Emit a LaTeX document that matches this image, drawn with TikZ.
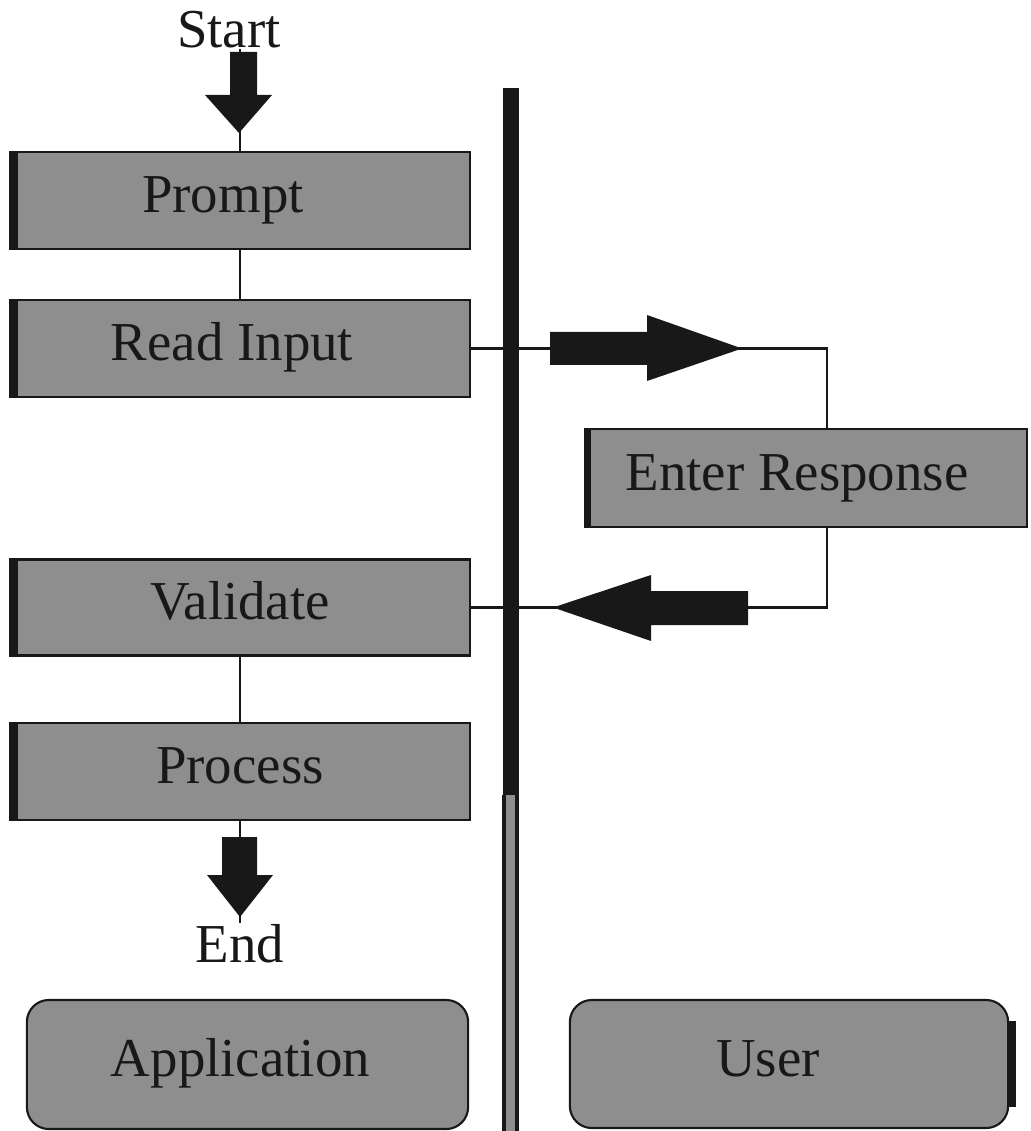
\documentclass[tikz,border=0pt]{standalone}
\usepackage{fontspec}
\setmainfont{Liberation Serif}
\definecolor{boxgray}{RGB}{142,142,142}
\definecolor{ink}{RGB}{24,24,24}
\begin{document}
\begin{tikzpicture}[x=0.01cm,y=-0.01cm,
  lbl/.style={font=\fontsize{15.6}{18}\selectfont, text=ink, inner sep=0pt},
  stepbox/.style={lbl, draw=ink, line width=0.6pt, fill=boxgray, rectangle,
    text height=0.36cm, text depth=0.12cm},
  lanebox/.style={stepbox, rounded corners=0.22cm},
  txtshift/.style={execute at begin node={\hspace*{#1}}},
  conn/.style={draw=ink, line width=0.6pt},
  edgebar/.style={fill=ink}]
\useasboundingbox (0,0) rectangle (1031,1131);

% swimlane divider
\fill[ink] (503,88) rectangle (519,795);
\fill[ink] (502,795) rectangle (519,1131);
\fill[boxgray] (506,795) rectangle (515,1131);

% application steps
\node[stepbox, minimum width=4.60cm, minimum height=0.97cm, txtshift=-0.34cm] (prompt) at (240,200.5) {Prompt};
\node[stepbox, minimum width=4.60cm, minimum height=0.97cm, txtshift=-0.16cm] (read) at (240,348.5) {Read Input};
\node[stepbox, minimum width=4.60cm, minimum height=0.96cm] (validate) at (240,607.5) {Validate};
\node[stepbox, minimum width=4.60cm, minimum height=0.97cm] (process) at (240,771.5) {Process};
\node[stepbox, minimum width=4.42cm, minimum height=0.98cm, txtshift=-0.18cm] (enter) at (806,478) {Enter Response};

\foreach \n in {prompt,read,validate,process}
  \fill[edgebar] (\n.north west) rectangle ([xshift=0.09cm]\n.south west);
\fill[edgebar] (enter.north west) rectangle ([xshift=0.07cm]enter.south west);

% lane titles
\node[lanebox, minimum width=4.41cm, minimum height=1.29cm, txtshift=-0.14cm] (app) at (247.5,1064.5) {Application};
\node[lanebox, minimum width=4.38cm, minimum height=1.28cm, txtshift=-0.42cm] (user) at (789,1064) {User};
\draw[ink, line width=2.2pt] ([yshift=-0.22cm,xshift=0.03cm]user.north east) -- ([yshift=0.22cm,xshift=0.03cm]user.south east);

% start / end labels
\node[lbl, anchor=base] (start) at (229,48) {Start};
\node[lbl, anchor=base] (end) at (240,962) {End};

% connectors
\draw[conn] (start.south -| prompt.north) -- (prompt.north);
\fill[ink] (230,52) -- (257,52) -- (257,95) -- (272,95) -- (239,133) -- (205,95) -- (230,95) -- cycle;

\draw[conn] (prompt.south) -- (read.north);

\coordinate (turn) at (827,348.5);
\draw[conn] (read.east) -- (turn) -- (turn |- enter.north);
\fill[ink] (550,332) -- (647,332) -- (647,315) -- (742,348.5) -- (647,381) -- (647,365) -- (550,365) -- cycle;

\draw[conn] (turn |- enter.south) -- (turn |- validate.east) -- (validate.east);
\fill[ink] (748,591) -- (651,591) -- (651,575) -- (553,607.5) -- (651,641) -- (651,625) -- (748,625) -- cycle;

\draw[conn] (validate.south) -- (process.north);

\draw[conn] (process.south) -- (process.south |- end.north);
\fill[ink] (222,837) -- (257,837) -- (257,875) -- (273,875) -- (240,917) -- (207,875) -- (222,875) -- cycle;
\end{tikzpicture}
\end{document}
